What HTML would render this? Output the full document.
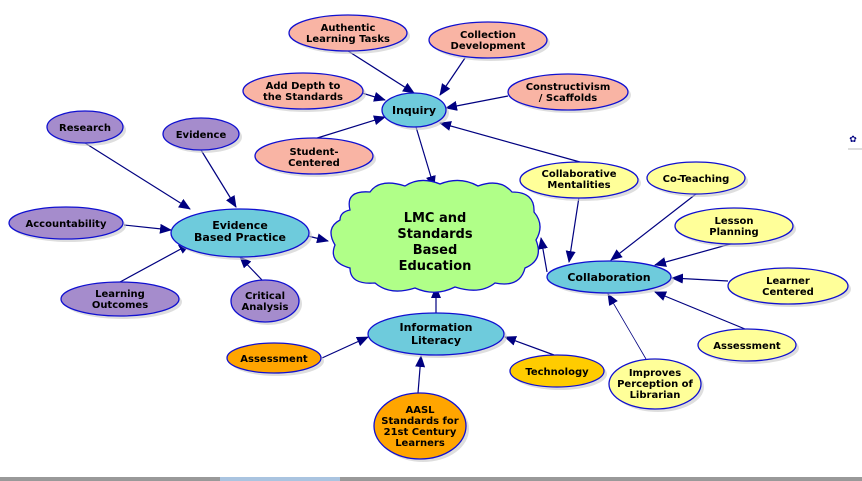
<!DOCTYPE html>
<html><head><meta charset="utf-8"><style>
html,body{margin:0;padding:0;background:#fff;width:862px;height:481px;overflow:hidden}
svg{display:block}
text{font-family:"DejaVu Sans","Liberation Sans",sans-serif;font-weight:bold;font-size:10px;fill:#000;text-anchor:middle}
.e{stroke:#1010d0;stroke-width:1.3}
.s{fill:#c8c8c8;opacity:.6}
.l{stroke:#000080;stroke-width:1.2;fill:none;marker-end:url(#a)}
</style></head><body>
<svg width="862" height="481" viewBox="0 0 862 481">
<defs><marker id="a" markerWidth="12" markerHeight="10" refX="11" refY="5" orient="auto" markerUnits="userSpaceOnUse"><path d="M0,0 L12,5 L0,10 Z" fill="#000080"/></marker></defs>
<!-- edges -->
<line class="l" x1="348" y1="51" x2="414" y2="93"/>
<line class="l" x1="465" y1="58" x2="440" y2="95"/>
<line class="l" x1="362" y1="93" x2="385" y2="100"/>
<line class="l" x1="508" y1="96" x2="446" y2="108"/>
<line class="l" x1="314" y1="139" x2="385" y2="117"/>
<line class="l" x1="416" y1="127" x2="434" y2="187"/>
<line class="l" x1="580" y1="162" x2="440" y2="123"/>
<line class="l" x1="85" y1="143" x2="190" y2="209"/>
<line class="l" x1="201" y1="150" x2="236" y2="207"/>
<line class="l" x1="124" y1="225" x2="171" y2="230"/>
<line class="l" x1="120" y1="282" x2="190" y2="244"/>
<line class="l" x1="262" y1="280" x2="240" y2="257"/>
<line class="l" x1="308" y1="236" x2="328" y2="241"/>
<line class="l" x1="436" y1="313" x2="436" y2="287"/>
<line class="l" x1="322" y1="358" x2="368" y2="337"/>
<line class="l" x1="554" y1="355" x2="505" y2="337"/>
<line class="l" x1="418" y1="393" x2="421" y2="356"/>
<line class="l" x1="547" y1="272" x2="541" y2="238"/>
<line class="l" x1="579" y1="197" x2="569" y2="262"/>
<line class="l" x1="696" y1="194" x2="611" y2="260"/>
<line class="l" x1="734" y1="243" x2="655" y2="265"/>
<line class="l" x1="728" y1="281" x2="672" y2="278"/>
<line class="l" x1="745" y1="329" x2="655" y2="292"/>
<line class="l" x1="646" y1="359" x2="608" y2="294" style="stroke-width:.8"/>
<!-- cloud -->
<path d="M350,210 Q345,190 370,192 Q380,178 405,186 Q420,176 440,184 Q460,176 478,186 Q500,178 512,192 Q535,192 534,212 Q545,225 536,240 Q544,260 525,268 Q520,288 495,283 Q480,295 455,287 Q435,297 415,288 Q390,296 375,283 Q350,285 350,268 Q328,262 335,245 Q325,228 340,220 Q340,212 350,210 Z" fill="#b0ff88" stroke="#1010d0" stroke-width="1.3"/>
<text x="435" y="222" style="font-size:13px">LMC and</text>
<text x="435" y="238" style="font-size:13px">Standards</text>
<text x="435" y="254" style="font-size:13px">Based</text>
<text x="435" y="270" style="font-size:13px">Education</text>
<!-- nodes -->
<g>
<ellipse class="s" cx="351" cy="36" rx="59" ry="18"/><ellipse class="e" cx="348" cy="33" rx="59" ry="18" fill="#f9b4a4"/>
<text x="348" y="31">Authentic</text><text x="348" y="42">Learning Tasks</text>
<ellipse class="s" cx="491" cy="43" rx="59" ry="18"/><ellipse class="e" cx="488" cy="40" rx="59" ry="18" fill="#f9b4a4"/>
<text x="488" y="38">Collection</text><text x="488" y="49">Development</text>
<ellipse class="s" cx="306" cy="94" rx="60" ry="18"/><ellipse class="e" cx="303" cy="91" rx="60" ry="18" fill="#f9b4a4"/>
<text x="303" y="89">Add Depth to</text><text x="303" y="100">the Standards</text>
<ellipse class="s" cx="571" cy="95" rx="60" ry="18"/><ellipse class="e" cx="568" cy="92" rx="60" ry="18" fill="#f9b4a4"/>
<text x="568" y="90">Constructivism</text><text x="568" y="101">/ Scaffolds</text>
<ellipse class="s" cx="317" cy="159" rx="59" ry="18"/><ellipse class="e" cx="314" cy="156" rx="59" ry="18" fill="#f9b4a4"/>
<text x="314" y="155">Student-</text><text x="314" y="166">Centered</text>
<ellipse class="s" cx="417" cy="113" rx="32" ry="17"/><ellipse class="e" cx="414" cy="110" rx="32" ry="17" fill="#6ecbdc"/>
<text x="414" y="114" style="font-size:11px">Inquiry</text>

<ellipse class="s" cx="88" cy="130" rx="38" ry="16"/><ellipse class="e" cx="85" cy="127" rx="38" ry="16" fill="#a58ccc"/>
<text x="85" y="131">Research</text>
<ellipse class="s" cx="204" cy="137" rx="38" ry="16"/><ellipse class="e" cx="201" cy="134" rx="38" ry="16" fill="#a58ccc"/>
<text x="201" y="138">Evidence</text>
<ellipse class="s" cx="69" cy="226" rx="57" ry="16"/><ellipse class="e" cx="66" cy="223" rx="57" ry="16" fill="#a58ccc"/>
<text x="66" y="227">Accountability</text>
<ellipse class="s" cx="123" cy="302" rx="59" ry="17"/><ellipse class="e" cx="120" cy="299" rx="59" ry="17" fill="#a58ccc"/>
<text x="120" y="297">Learning</text><text x="120" y="308">Outcomes</text>
<ellipse class="s" cx="268" cy="304" rx="34" ry="21"/><ellipse class="e" cx="265" cy="301" rx="34" ry="21" fill="#a58ccc"/>
<text x="265" y="299">Critical</text><text x="265" y="310">Analysis</text>
<ellipse class="s" cx="243" cy="236" rx="69" ry="24"/><ellipse class="e" cx="240" cy="233" rx="69" ry="24" fill="#6ecbdc"/>
<text x="240" y="229" style="font-size:11px">Evidence</text><text x="240" y="241" style="font-size:11px">Based Practice</text>

<ellipse class="s" cx="582" cy="183" rx="59" ry="18"/><ellipse class="e" cx="579" cy="180" rx="59" ry="18" fill="#ffff99"/>
<text x="579" y="177">Collaborative</text><text x="579" y="188">Mentalities</text>
<ellipse class="s" cx="699" cy="181" rx="49" ry="16"/><ellipse class="e" cx="696" cy="178" rx="49" ry="16" fill="#ffff99"/>
<text x="696" y="182">Co-Teaching</text>
<ellipse class="s" cx="737" cy="229" rx="59" ry="18"/><ellipse class="e" cx="734" cy="226" rx="59" ry="18" fill="#ffff99"/>
<text x="734" y="224">Lesson</text><text x="734" y="235">Planning</text>
<ellipse class="s" cx="791" cy="289" rx="60" ry="18"/><ellipse class="e" cx="788" cy="286" rx="60" ry="18" fill="#ffff99"/>
<text x="788" y="284">Learner</text><text x="788" y="295">Centered</text>
<ellipse class="s" cx="750" cy="348" rx="49" ry="16"/><ellipse class="e" cx="747" cy="345" rx="49" ry="16" fill="#ffff99"/>
<text x="747" y="349">Assessment</text>
<ellipse class="s" cx="658" cy="387" rx="46" ry="25"/><ellipse class="e" cx="655" cy="384" rx="46" ry="25" fill="#ffff99"/>
<text x="655" y="376">Improves</text><text x="655" y="387">Perception of</text><text x="655" y="398">Librarian</text>
<ellipse class="s" cx="612" cy="280" rx="62" ry="16"/><ellipse class="e" cx="609" cy="277" rx="62" ry="16" fill="#6ecbdc"/>
<text x="609" y="281" style="font-size:11px">Collaboration</text>

<ellipse class="s" cx="439" cy="337" rx="68" ry="21"/><ellipse class="e" cx="436" cy="334" rx="68" ry="21" fill="#6ecbdc"/>
<text x="436" y="331" style="font-size:11px">Information</text><text x="436" y="344" style="font-size:11px">Literacy</text>
<ellipse class="s" cx="277" cy="361" rx="47" ry="15"/><ellipse class="e" cx="274" cy="358" rx="47" ry="15" fill="#ffa500"/>
<text x="274" y="362">Assessment</text>
<ellipse class="s" cx="560" cy="374" rx="47" ry="16"/><ellipse class="e" cx="557" cy="371" rx="47" ry="16" fill="#ffcc00"/>
<text x="557" y="375">Technology</text>
<ellipse class="s" cx="423" cy="429" rx="46" ry="33"/><ellipse class="e" cx="420" cy="426" rx="46" ry="33" fill="#ffa500"/>
<text x="420" y="413">AASL</text><text x="420" y="424">Standards for</text><text x="420" y="435">21st Century</text><text x="420" y="446">Learners</text>
</g>
<text x="853" y="142" style="font-size:9px;fill:#000080">✿</text>
<line x1="848" y1="149" x2="862" y2="149" stroke="#bbb"/>
<rect x="0" y="477" width="862" height="4" fill="#999"/>
<rect x="220" y="477" width="120" height="4" fill="#aac4e0"/>
</svg>
</body></html>
